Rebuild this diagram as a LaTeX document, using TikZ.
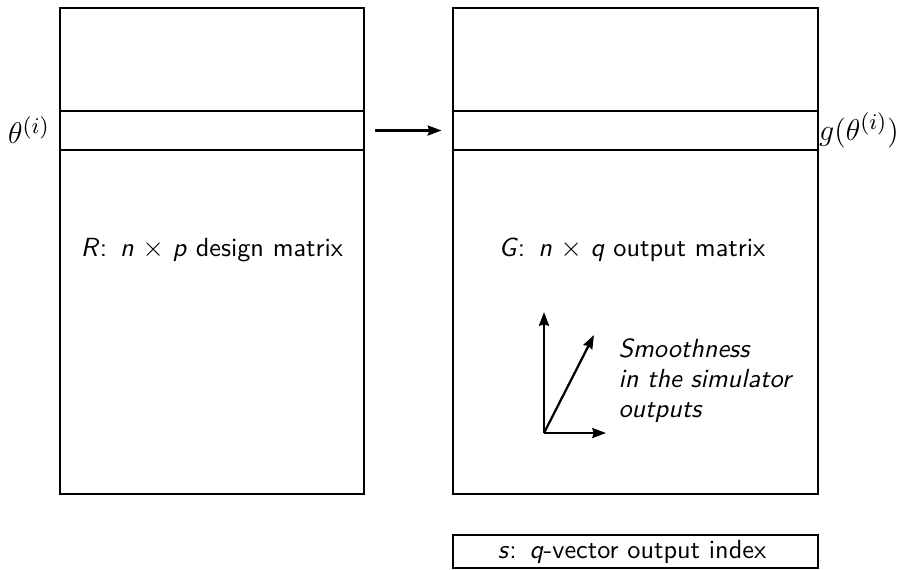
\documentclass[tikz,border=0pt]{standalone}
\usetikzlibrary{arrows.meta}
\begin{document}
\begin{tikzpicture}[x=0.4pt,y=-0.4pt,
  frame/.style={draw,line width=0.9pt,inner sep=0pt,outer sep=0pt},
  lbl/.style={font=\fontsize{10.5}{12}\selectfont\sffamily,inner sep=1pt},
  mathlbl/.style={font=\fontsize{12.8}{15}\selectfont,inner sep=1pt},
  arr/.style={line width=0.9pt,-{Stealth[length=5.5pt,width=4pt,inset=0.6pt]}}]
\useasboundingbox (0,0) rectangle (907,569);
% left matrix
\node[frame,minimum width=304*0.4pt,minimum height=486*0.4pt] (R) at (212,251) {};
\node[frame,minimum width=304*0.4pt,minimum height=39*0.4pt] (Rs) at (212,130.5) {};
% right matrix
\node[frame,minimum width=365*0.4pt,minimum height=486*0.4pt] (G) at (635.5,251) {};
\node[frame,minimum width=365*0.4pt,minimum height=39*0.4pt] (Gs) at (635.5,130.5) {};
% bottom vector
\node[frame,minimum width=365*0.4pt,minimum height=33*0.4pt] (S) at (635.5,551.5) {};
% labels
\node[mathlbl] (th) at (29,130) {$\theta^{(i)}$};
\node[mathlbl] (gth) at (859,130) {$g(\theta^{(i)})$};
\node[lbl] (Rl) at (212,250) {\textit{R}:\enspace\textit{n} $\times$ \textit{p} design matrix};
\node[lbl] (Gl) at (632,250) {\textit{G}:\enspace\textit{n} $\times$ \textit{q} output matrix};
\node[lbl] (Sl) at (632,552) {\textit{s}:\enspace\textit{q}-vector output index};
\node[lbl,anchor=north west,align=left,font=\fontsize{10.5}{12}\selectfont\sffamily\itshape,inner sep=0pt] (sm) at (618,338)
  {Smoothness\\in the simulator\\outputs};
% arrow between strips
\draw[arr,shorten <=4.4pt,shorten >=4.6pt] (Rs.east) -- (Gs.west);
% axes
\coordinate (o) at (544,433);
\coordinate (yt) at (544,312);
\coordinate (xt) at (606,433);
\coordinate (dt) at (594,335);
\draw[arr] (o) -- (yt);
\draw[arr] (o) -- (xt);
\draw[arr] (o) -- (dt);
\end{tikzpicture}
\end{document}
